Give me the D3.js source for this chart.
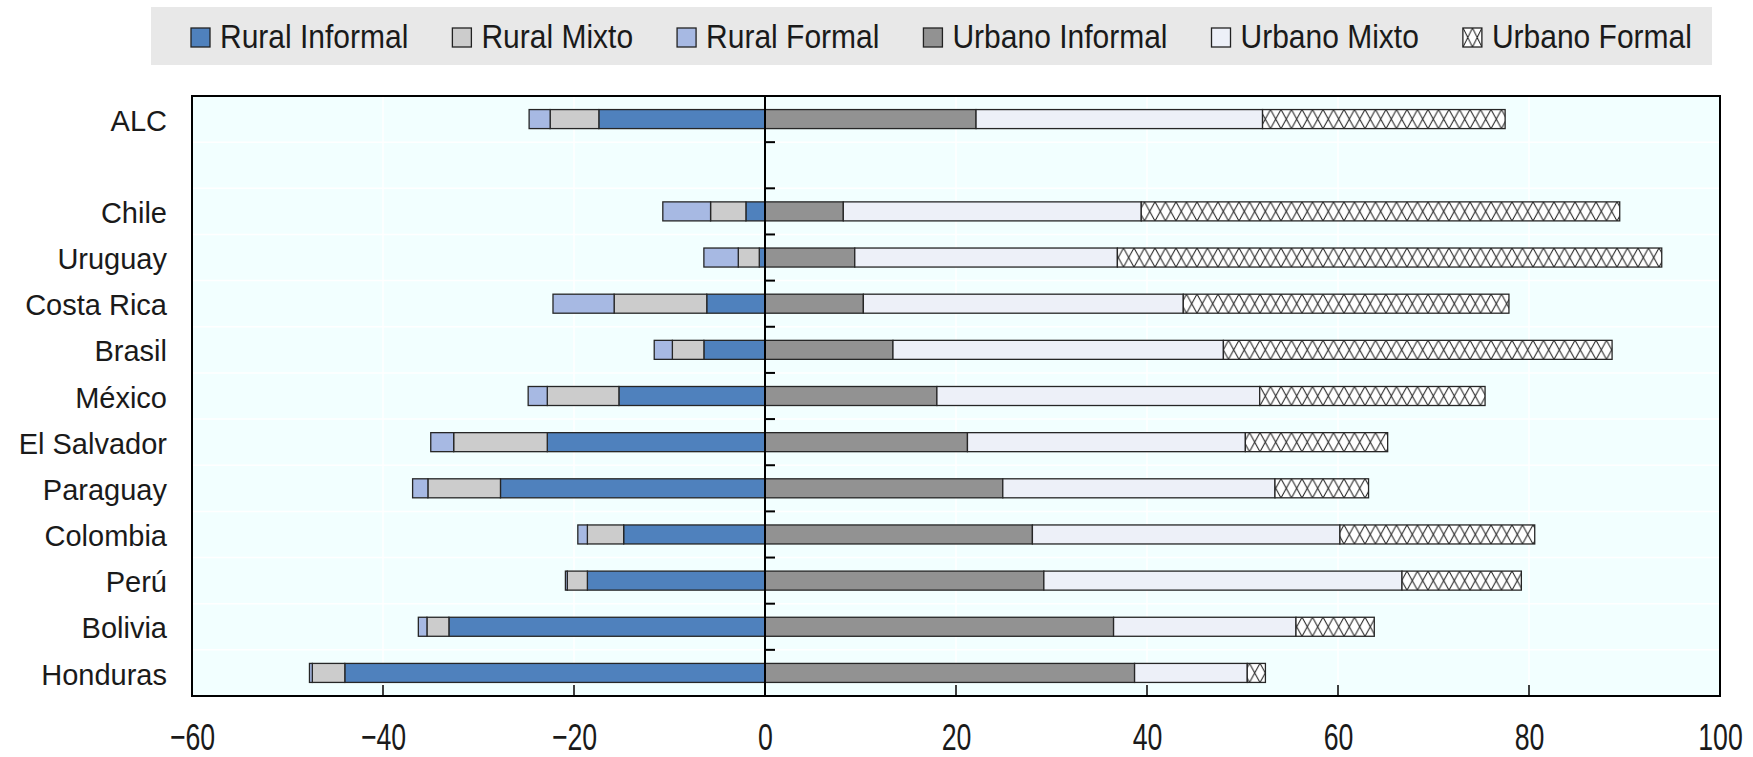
<!DOCTYPE html>
<html>
<head>
<meta charset="utf-8">
<script src="https://cdnjs.cloudflare.com/ajax/libs/d3/7.8.5/d3.min.js"></script>
<style>
  body { margin: 0; background: #fff; }
  svg { display: block; font-family: "Liberation Sans", Arial, sans-serif; }
</style>
</head>
<body>
<div id="chart"></div>
<script>
// Rural / urban shares by country
var countries = ["ALC", "Chile", "Uruguay", "Costa Rica", "Brasil", "México",
                 "El Salvador", "Paraguay", "Colombia", "Perú", "Bolivia", "Honduras"];

// rural shares, drawn to the left of zero
var ruralInformal = [17.4, 2.0, 0.6, 6.1, 6.4, 15.3, 22.8, 27.7, 14.8, 18.6, 33.1, 44.0];
var ruralMixto    = [5.1, 3.7, 2.2, 9.7, 3.3, 7.5, 9.8, 7.6, 3.8, 2.1, 2.3, 3.4];
var ruralFormal   = [2.2, 5.0, 3.6, 6.4, 1.9, 2.0, 2.4, 1.6, 1.0, 0.2, 0.9, 0.3];

// urban shares, drawn to the right
var urbanoInformal = [22.1, 8.2, 9.4, 10.3, 13.4, 18.0, 21.2, 24.9, 28.0, 29.2, 36.5, 38.7];
var urbanoMixto    = [30.0, 31.2, 27.5, 33.5, 34.6, 33.8, 29.1, 28.5, 32.2, 37.5, 19.1, 11.8];
var urbanoFormal   = [25.4, 50.1, 57.0, 34.1, 40.7, 23.6, 14.9, 9.8, 20.4, 12.5, 8.2, 1.9];

var seriesNames = ["Rural Informal", "Rural Mixto", "Rural Formal",
                   "Urbano Informal", "Urbano Mixto", "Urbano Formal"];
var xTicks = [-60, -40, -20, 0, 20, 40, 60, 80, 100];

var colors = ["#4f81bd", "#cccccc", "#a7b9e3", "#929292", "#edf0f8", "hatch"];

var width = 1753, height = 757;
var plot = { left: 192, right: 1720, top: 96, bottom: 696 };

var svg = d3.select("#chart").append("svg")
    .attr("width", width)
    .attr("height", height);

var defs = svg.append("defs");

// table for d3.stack, rural values negative so they grow leftwards
var table = countries.map(function (c, i) {
  return {
    country: c,
    "Rural Informal": -ruralInformal[i],
    "Rural Mixto": -ruralMixto[i],
    "Rural Formal": -ruralFormal[i],
    "Urbano Informal": urbanoInformal[i],
    "Urbano Mixto": urbanoMixto[i],
    "Urbano Formal": urbanoFormal[i]
  };
});

var layers = d3.stack()
    .keys(seriesNames)
    .offset(d3.stackOffsetDiverging)(table);

var x = d3.scaleLinear().domain([-60, 100]).range([plot.left, plot.right]);

// empty slot between ALC and the countries
var bandKeys = [countries[0], "gap"].concat(countries.slice(1));
var y = d3.scaleBand()
    .domain(bandKeys)
    .range([plot.top, plot.bottom])
    .paddingInner(0.588)
    .paddingOuter(0.294);

// cross hatch for "Urbano Formal", one pattern per row so it lines up with the bar
function addHatch(id, top, h, w) {
  var p = defs.append("pattern")
      .attr("id", id)
      .attr("patternUnits", "userSpaceOnUse")
      .attr("x", 0).attr("y", top)
      .attr("width", w).attr("height", h);
  p.append("rect").attr("width", w).attr("height", h).attr("fill", "#fff");
  p.append("path")
      .attr("d", "M0,0L" + w + "," + h + "M" + w + ",0L0," + h)
      .attr("stroke", "#111")
      .attr("stroke-width", 1)
      .attr("fill", "none");
}
countries.forEach(function (c, i) {
  addHatch("hatch-" + i, y(c), y.bandwidth(), 10.5);
});

// legend bar
svg.append("rect")
    .attr("x", 151).attr("y", 7)
    .attr("width", 1561).attr("height", 58)
    .attr("fill", "#e8e8e8");

var legend = svg.append("g");
var lx = 191;
seriesNames.forEach(function (name, i) {
  var fill = colors[i];
  if (fill === "hatch") {
    addHatch("hatch-legend", 28, 19, 9.5);
    fill = "url(#hatch-legend)";
  }
  legend.append("rect")
      .attr("x", lx).attr("y", 28)
      .attr("width", 19).attr("height", 19)
      .attr("fill", fill)
      .attr("stroke", "#222")
      .attr("stroke-width", 1.3);
  var t = legend.append("text")
      .attr("transform", "translate(" + (lx + 29) + ",48) scale(1,1.08)")
      .attr("font-size", 30)
      .attr("fill", "#1a1a1a")
      .text(name);
  lx += 29 + t.node().getComputedTextLength() + 44;
});

// plot background and faint white grid
svg.append("rect")
    .attr("x", plot.left).attr("y", plot.top)
    .attr("width", plot.right - plot.left)
    .attr("height", plot.bottom - plot.top)
    .attr("fill", "#f2ffff");

var innerTicks = xTicks.filter(function (t) { return t > -60 && t < 100; });
var bounds = d3.range(1, bandKeys.length).map(function (k) {
  return plot.top + k * y.step();
});

svg.append("g").selectAll("line.vgrid").data(innerTicks).join("line")
    .attr("x1", function (d) { return x(d); })
    .attr("x2", function (d) { return x(d); })
    .attr("y1", plot.top).attr("y2", plot.bottom)
    .attr("stroke", "#fff").attr("stroke-width", 1.5);

svg.append("g").selectAll("line.hgrid").data(bounds).join("line")
    .attr("x1", plot.left).attr("x2", plot.right)
    .attr("y1", function (d) { return d; })
    .attr("y2", function (d) { return d; })
    .attr("stroke", "#fff").attr("stroke-width", 1.5);

// stacked bars
svg.append("g").selectAll("g").data(layers).join("g")
    .selectAll("rect")
    .data(function (layer, li) {
      return layer.map(function (d) { d.li = li; return d; });
    })
    .join("rect")
    .attr("x", function (d) { return x(Math.min(d[0], d[1])); })
    .attr("width", function (d) { return Math.abs(x(d[1]) - x(d[0])); })
    .attr("y", function (d) { return y(d.data.country); })
    .attr("height", y.bandwidth())
    .attr("fill", function (d) {
      if (colors[d.li] === "hatch") {
        return "url(#hatch-" + countries.indexOf(d.data.country) + ")";
      }
      return colors[d.li];
    })
    .attr("stroke", "#262626")
    .attr("stroke-width", 1.3);

// zero line with the category ticks
svg.append("line")
    .attr("x1", x(0)).attr("x2", x(0))
    .attr("y1", plot.top).attr("y2", plot.bottom)
    .attr("stroke", "#000").attr("stroke-width", 2);

svg.append("g").selectAll("line").data(bounds).join("line")
    .attr("x1", x(0)).attr("x2", x(0) + 10)
    .attr("y1", function (d) { return d; })
    .attr("y2", function (d) { return d; })
    .attr("stroke", "#000").attr("stroke-width", 2);

// bottom ticks point up into the plot
svg.append("g").selectAll("line").data(innerTicks).join("line")
    .attr("x1", function (d) { return x(d); })
    .attr("x2", function (d) { return x(d); })
    .attr("y1", plot.bottom).attr("y2", plot.bottom - 11)
    .attr("stroke", "#000").attr("stroke-width", 1.5);

// frame
svg.append("rect")
    .attr("x", plot.left).attr("y", plot.top)
    .attr("width", plot.right - plot.left)
    .attr("height", plot.bottom - plot.top)
    .attr("fill", "none")
    .attr("stroke", "#000")
    .attr("stroke-width", 2);

// x axis labels (tall and narrow, like the original)
var xAxis = svg.append("g")
    .attr("transform", "translate(0," + plot.bottom + ")")
    .call(d3.axisBottom(x).tickValues(xTicks).tickSize(0).tickPadding(0));
xAxis.attr("font-family", null).attr("font-size", null);
xAxis.select(".domain").remove();
xAxis.selectAll("text")
    .attr("y", 0).attr("dy", 0)
    .attr("transform", "translate(0,54) scale(0.92,1.3)")
    .attr("font-size", 29)
    .attr("fill", "#1a1a1a");

// category labels
var yAxis = svg.append("g")
    .attr("transform", "translate(" + plot.left + ",0)")
    .call(d3.axisLeft(y).tickSize(0).tickPadding(25)
      .tickFormat(function (d) { return d === "gap" ? "" : d; }));
yAxis.attr("font-family", null).attr("font-size", null);
yAxis.select(".domain").remove();
yAxis.selectAll("text")
    .attr("dy", "0.4em")
    .attr("font-size", 29)
    .attr("fill", "#1a1a1a");
</script>
</body>
</html>
